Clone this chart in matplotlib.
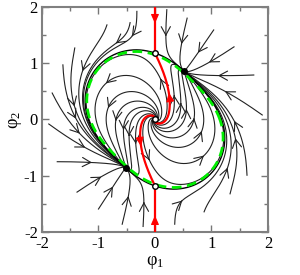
import math
import numpy as np
import matplotlib
matplotlib.use('Agg')
import matplotlib.pyplot as plt

plt.rcParams['font.family'] = ['Liberation Serif', 'DejaVu Serif']
plt.rcParams['mathtext.fontset'] = 'custom'
plt.rcParams['mathtext.rm'] = 'Liberation Serif'
plt.rcParams['mathtext.it'] = 'Liberation Serif:italic'
plt.rcParams['mathtext.default'] = 'regular'
plt.rcParams['axes.unicode_minus'] = False

### model: closed orbit r(t) = R0 - R1*sin(2t)
R0, R1 = 1.18, 0.20
node_deg = 59.0      # stable points on the orbit (black dots)
saddle_deg = 90.0    # saddles on the orbit (open circles)
omega = 1.0
k_rad = 1.1
green_shift = 0.03   # dashed analytic orbit sits just inside the black one

# starting points of the outer trajectories
seeds_x = [-0.85, -0.44, -0.32, -1.42, -1.63, -1.82, -1.88,
           -1.73, -1.38, -1.00, -0.58, -0.21,
           0.21, 0.57, 1.04, 1.40, 1.75, 1.90,
           1.63, 1.33, 0.87, 0.35]
seeds_y = [1.68, 1.72, 1.92, 1.27, 0.97, 0.47, -0.08,
           -0.75, -1.29, -1.59, -1.86, -1.90,
           1.95, 1.80, 1.59, 1.29, 0.79, 0.08,
           -0.99, -1.32, -1.64, -1.86]
# launch angles (deg) of trajectories leaving the unstable focus
inner_deg = [0, 25, 50, 75, 100, 125, 150, 180, 205, 230, 255, 280, 305, 330]

alpha = math.pi / 2 - math.radians(saddle_deg - node_deg)
phi = 2 * math.radians(node_deg) - alpha
eps = omega / math.sin(alpha)


def R(t):
    return R0 - R1 * math.sin(2 * t)


def field(x, y):
    r = math.hypot(x, y)
    t = math.atan2(y, x)
    rho = r / R(t)
    drho = k_rad * rho * (1 - rho ** 2)
    dth = omega - eps * min(rho, 1.0) ** 2 * math.sin(2 * t - phi)
    dr = drho * R(t) + rho * (-2 * R1 * math.cos(2 * t)) * dth
    c, s = math.cos(t), math.sin(t)
    return dr * c - r * s * dth, dr * s + r * c * dth


def trace(x, y, T, dt=0.01, sign=1):
    pts = [(x, y)]
    for _ in range(int(T / dt)):
        k1 = field(x, y)
        k2 = field(x + 0.5 * dt * sign * k1[0], y + 0.5 * dt * sign * k1[1])
        k3 = field(x + 0.5 * dt * sign * k2[0], y + 0.5 * dt * sign * k2[1])
        k4 = field(x + dt * sign * k3[0], y + dt * sign * k3[1])
        x += dt * sign * (k1[0] + 2 * k2[0] + 2 * k3[0] + k4[0]) / 6
        y += dt * sign * (k1[1] + 2 * k2[1] + 2 * k3[1] + k4[1]) / 6
        if abs(x) > 2.3 or abs(y) > 2.3 or math.hypot(x, y) < 1e-3:
            break
        pts.append((x, y))
    return np.array(pts)


def rho_of(p):
    t = np.arctan2(p[:, 1], p[:, 0])
    return np.hypot(p[:, 0], p[:, 1]) / (R0 - R1 * np.sin(2 * t))


def arrow(ax, p, i, color, style):
    j = min(i + 2, len(p) - 1)
    ax.annotate('', xy=p[j], xytext=p[i],
                arrowprops=dict(arrowstyle=style, color=color, lw=0.8,
                                shrinkA=0, shrinkB=0, mutation_scale=11))


def arrow_at(ax, p, frac, color='#222222', style='->,head_length=0.55,head_width=0.3'):
    rho = rho_of(p)
    far = np.where(np.abs(rho - 1) > 0.08)[0]
    n = far[-1] if len(far) else len(p) - 1
    d = np.r_[0, np.cumsum(np.hypot(np.diff(p[:n + 1, 0]), np.diff(p[:n + 1, 1])))]
    i = int(np.searchsorted(d, frac * d[-1]))
    arrow(ax, p, min(i, len(p) - 3), color, style)


fig = plt.figure(figsize=(3.0, 2.75), dpi=100)
ax = fig.add_axes([0.14, 0.156, 0.753, 0.819])

# outer trajectories
for x0, y0 in zip(seeds_x, seeds_y):
    p = trace(x0, y0, 8)
    ax.plot(p[:, 0], p[:, 1], color='#222222', lw=0.8)
    arrow_at(ax, p, 0.55)

# trajectories from the focus
for a in inner_deg:
    t = math.radians(a)
    p = trace(0.02 * math.cos(t), 0.02 * math.sin(t), 12)
    ax.plot(p[:, 0], p[:, 1], color='#222222', lw=0.8)
    arrow_at(ax, p, 0.6)

# orbit: unstable manifolds of the saddles
ts = math.radians(saddle_deg)
for base in (ts, ts + math.pi):
    for d in (-0.01, 0.01):
        t = base + d
        p = trace(R(t) * math.cos(t), R(t) * math.sin(t), 20)
        ax.plot(p[:, 0], p[:, 1], color='k', lw=1.0, zorder=2)

# stable manifolds of the saddles (red)
for base in (ts, ts + math.pi):
    for f, frac in ((0.995, 0.5), (1.005, 0.45)):
        x0, y0 = f * R(base) * math.cos(base), f * R(base) * math.sin(base)
        p = trace(x0, y0, 12, sign=-1)[::-1]
        ax.plot(p[:, 0], p[:, 1], color='red', lw=1.6, zorder=4)
        d = np.r_[0, np.cumsum(np.hypot(np.diff(p[:, 0]), np.diff(p[:, 1])))]
        i = int(np.searchsorted(d, frac * d[-1]))
        arrow(ax, p, min(i, len(p) - 3), 'red', '-|>,head_length=0.5,head_width=0.22')

# analytic orbit (green dashes)
tt = np.linspace(0, 2 * np.pi, 400)
rr = R0 - green_shift - R1 * np.sin(2 * tt)
ax.plot(rr * np.cos(tt), rr * np.sin(tt), color='#00ee00', lw=2.0,
        dashes=(3.5, 2.0), zorder=3)

# fixed points
tn = math.radians(node_deg)
for t in (tn, tn + math.pi):
    ax.plot(R(t) * math.cos(t), R(t) * math.sin(t), 'o', color='k', ms=4, zorder=6)
for t in (ts, ts + math.pi):
    ax.plot(R(t) * math.cos(t), R(t) * math.sin(t), 'o', mfc='white', mec='k',
            ms=4, mew=1, zorder=6)
ax.plot(0, 0, 'o', mfc='white', mec='k', ms=4, mew=1, zorder=6)

ax.set_xlim(-2, 2)
ax.set_ylim(-2, 2)
ax.set_xticks([-2, -1, 0, 1, 2])
ax.set_yticks([-2, -1, 0, 1, 2])
ax.set_xticks(np.arange(-1.5, 2, 1.0), minor=True)
ax.set_yticks(np.arange(-1.5, 2, 1.0), minor=True)
ax.tick_params(which='both', direction='in', top=True, right=True,
               labelsize=12, color='#777777', width=1)
ax.tick_params(which='major', length=5, pad=3)
ax.tick_params(which='minor', length=3)
for s in ax.spines.values():
    s.set_color('#808080')
    s.set_linewidth(1.5)
ax.set_xlabel('φ$_1$', fontsize=13, labelpad=1)
ax.set_ylabel('φ$_2$', fontsize=13, labelpad=0)

fig.savefig('out.png', dpi=100)
